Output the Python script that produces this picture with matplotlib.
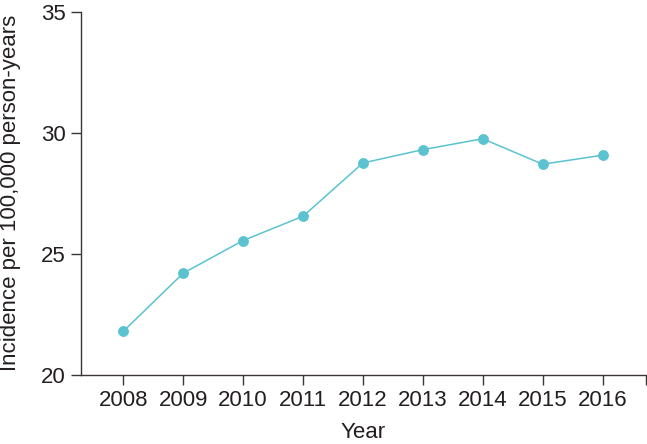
import matplotlib
matplotlib.use("Agg")
import matplotlib.pyplot as plt

years = [2008, 2009, 2010, 2011, 2012, 2013, 2014, 2015, 2016]
incidence = [21.8, 24.2, 25.55, 26.55, 28.75, 29.3, 29.75, 28.7, 29.07]
yticks = [20, 25, 30, 35]

plt.rcParams['font.family'] = ['Liberation Sans', 'DejaVu Sans']
text_color = '#231f20'
axis_color = '#3d3535'
line_color = '#5bc3d0'

fig = plt.figure(figsize=(6.47, 4.44), dpi=100)
ax = fig.add_axes([0.1247, 0.1554, 0.8733, 0.8186])

ax.plot(years, incidence, color=line_color, linewidth=1.1, marker='o',
        markersize=6.8, markerfacecolor=line_color, markeredgecolor=line_color,
        clip_on=False, zorder=3)

ax.set_xlim(2007.29, 2016.72)
ax.set_ylim(20, 35)
ax.set_xticks(years)
ax.set_xticklabels([str(y) for y in years])
ax.set_xticks([2016.72], minor=True)
ax.set_yticks(yticks)

for s in ['top', 'right']:
    ax.spines[s].set_visible(False)
for s in ['left', 'bottom']:
    ax.spines[s].set_color(axis_color)
    ax.spines[s].set_linewidth(1.0)

ax.tick_params(axis='both', which='both', direction='out', length=7, width=1.0,
               color=axis_color, labelsize=16, labelcolor=text_color, pad=4)
ax.tick_params(axis='x', which='minor', length=7)

ax.set_xlabel('Year', fontsize=16, color=text_color, labelpad=7.5)
ax.set_ylabel('Incidence per 100,000 person-years', fontsize=16, color=text_color, labelpad=14)

fig.savefig('out.png', dpi=100)
